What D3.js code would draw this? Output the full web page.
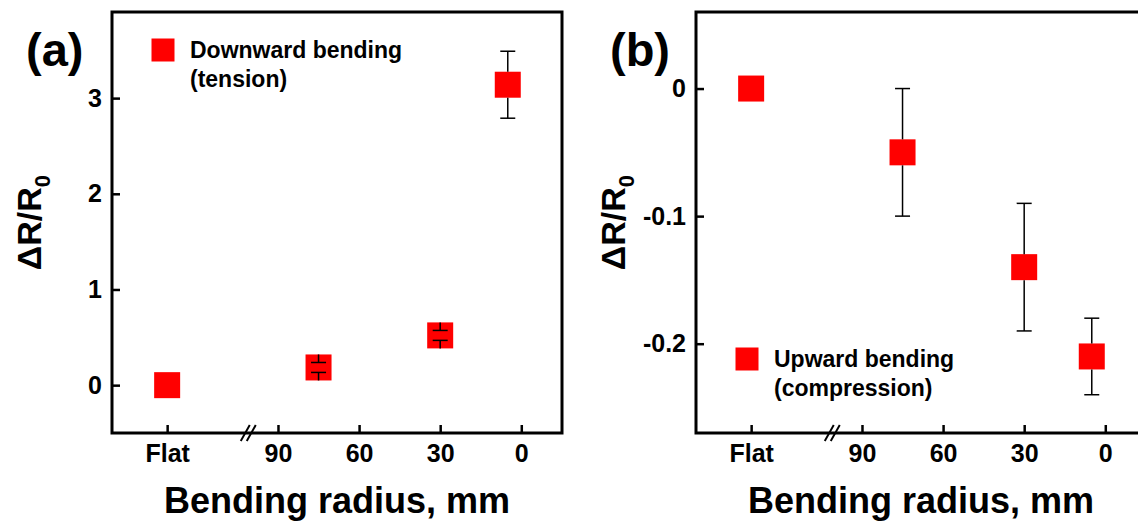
<!DOCTYPE html>
<html>
<head>
<meta charset="utf-8">
<script src="https://cdn.jsdelivr.net/npm/d3@7/dist/d3.min.js"></script>
<style>
  html, body { margin: 0; padding: 0; background: #fff; }
  svg { display: block; font-family: "Liberation Sans", Arial, sans-serif; font-weight: bold; }
</style>
</head>
<body>
<svg id="chart" width="1138" height="523"></svg>
<script>
// Bending radius (mm) of each measurement; "Flat" is the unbent reference
const radii = ["Flat", 75, 30, 5];
const radiusTicks = ["Flat", 90, 60, 30, 0];

// Downward bending (tension)
const tensionValues = [0, 0.185, 0.52, 3.14];
const tensionErrors = [0, 0.052, 0.052, 0.35];
const tensionTicks = [0, 1, 2, 3];

// Upward bending (compression)
const compressionValues = [0, -0.05, -0.14, -0.21];
const compressionErrors = [0, 0.05, 0.05, 0.03];
const compressionTicks = [0, -0.1, -0.2];

const panels = [
  { tag: "(a)", legend: ["Downward bending", "(tension)"], values: tensionValues, errors: tensionErrors,
    ticks: tensionTicks, domain: [-0.5, 3.9], offset: 0, legendY: 50 },
  { tag: "(b)", legend: ["Upward bending", "(compression)"], values: compressionValues, errors: compressionErrors,
    ticks: compressionTicks, domain: [-0.27, 0.06], offset: 584, legendY: 359 }
];

// Plot frame of the first panel; the second is shifted right by its offset
const frame = { left: 112, right: 562, top: 12, bottom: 433 };
const FLAT_AT = 131;   // axis position given to the flat state
const BREAK_AT = 101;  // axis break between the flat state and the radius scale
const MARK = 26, LEGEND_MARK = 23, CAP = 15;
const FONT = "Liberation Sans, Arial, sans-serif";

const svg = d3.select("#chart");

panels.forEach(p => {
  const g = svg.append("g").attr("transform", `translate(${p.offset},0)`);
  const x = d3.scaleLinear().domain([151.4, -15.06]).range([frame.left, frame.right]);
  const pos = r => x(r === "Flat" ? FLAT_AT : r);
  const y = d3.scaleLinear().domain(p.domain).range([frame.bottom, frame.top]);

  // x axis
  const xAxis = d3.axisBottom(x)
    .tickValues(radiusTicks.map(r => r === "Flat" ? FLAT_AT : r))
    .tickFormat(v => v === FLAT_AT ? "Flat" : d3.format("d")(v))
    .tickSizeInner(-8).tickSizeOuter(0).tickPadding(11);
  const xg = g.append("g").attr("transform", `translate(0,${frame.bottom})`).call(xAxis);
  xg.select(".domain").remove();
  xg.selectAll(".tick line").attr("stroke", "#000").attr("stroke-width", 2.5);
  xg.selectAll(".tick text").attr("font-size", 25).attr("font-weight", "bold")
    .attr("font-family", FONT).attr("fill", "#000");

  // y axis
  const yAxis = d3.axisLeft(y).tickValues(p.ticks)
    .tickFormat(v => v === 0 ? "0" : String(v))
    .tickSizeInner(-8).tickSizeOuter(0).tickPadding(10);
  const yg = g.append("g").attr("transform", `translate(${frame.left},0)`).call(yAxis);
  yg.select(".domain").remove();
  yg.selectAll(".tick line").attr("stroke", "#000").attr("stroke-width", 2.5);
  yg.selectAll(".tick text").attr("font-size", 25).attr("font-weight", "bold")
    .attr("font-family", FONT).attr("fill", "#000");

  // frame
  g.append("rect")
    .attr("x", frame.left).attr("y", frame.top)
    .attr("width", frame.right - frame.left).attr("height", frame.bottom - frame.top)
    .attr("fill", "none").attr("stroke", "#000").attr("stroke-width", 3);

  // axis break marks
  const bx = x(BREAK_AT);
  [-3, 3].forEach(d => {
    g.append("line")
      .attr("x1", bx + d - 4.5).attr("y1", frame.bottom + 8)
      .attr("x2", bx + d + 4.5).attr("y2", frame.bottom - 8)
      .attr("stroke", "#000").attr("stroke-width", 2);
  });

  const pts = radii.map((r, i) => ({ r, v: p.values[i], e: p.errors[i] }));

  // square markers
  g.selectAll("rect.pt").data(pts).join("rect").attr("class", "pt")
    .attr("x", d => pos(d.r) - MARK / 2).attr("y", d => y(d.v) - MARK / 2)
    .attr("width", MARK).attr("height", MARK).attr("fill", "#ff0000");

  // error bars: stems run from the marker edge to each cap
  const eb = g.selectAll("g.err").data(pts.filter(d => d.e > 0)).join("g").attr("class", "err")
    .attr("stroke", "#000").attr("stroke-width", 1.5);
  eb.append("line")
    .attr("x1", d => pos(d.r)).attr("x2", d => pos(d.r))
    .attr("y1", d => y(d.v) - MARK / 2).attr("y2", d => y(d.v + d.e));
  eb.append("line")
    .attr("x1", d => pos(d.r)).attr("x2", d => pos(d.r))
    .attr("y1", d => y(d.v) + MARK / 2).attr("y2", d => y(d.v - d.e));
  eb.append("line")
    .attr("x1", d => pos(d.r) - CAP / 2).attr("x2", d => pos(d.r) + CAP / 2)
    .attr("y1", d => y(d.v + d.e)).attr("y2", d => y(d.v + d.e));
  eb.append("line")
    .attr("x1", d => pos(d.r) - CAP / 2).attr("x2", d => pos(d.r) + CAP / 2)
    .attr("y1", d => y(d.v - d.e)).attr("y2", d => y(d.v - d.e));

  // legend
  const lx = frame.left + 51;
  g.append("rect")
    .attr("x", lx - LEGEND_MARK / 2).attr("y", p.legendY - LEGEND_MARK / 2)
    .attr("width", LEGEND_MARK).attr("height", LEGEND_MARK).attr("fill", "#ff0000");
  p.legend.forEach((t, i) => {
    g.append("text").attr("x", lx + 27).attr("y", p.legendY + 8 + i * 29)
      .attr("font-size", 23).text(t);
  });

  // axis titles
  g.append("text")
    .attr("x", (frame.left + frame.right) / 2).attr("y", 513)
    .attr("text-anchor", "middle").attr("font-size", 36)
    .text("Bending radius, mm");

  const yt = g.append("text")
    .attr("transform", `translate(41,${(frame.top + frame.bottom) / 2})rotate(-90)`)
    .attr("text-anchor", "middle").attr("font-size", 34);
  yt.append("tspan").text("ΔR/R");
  yt.append("tspan").attr("font-size", 22).attr("dy", 9).text("0");

  // panel tag
  g.append("text").attr("x", 26).attr("y", 66).attr("font-size", 47).text(p.tag);
});
</script>
</body>
</html>
